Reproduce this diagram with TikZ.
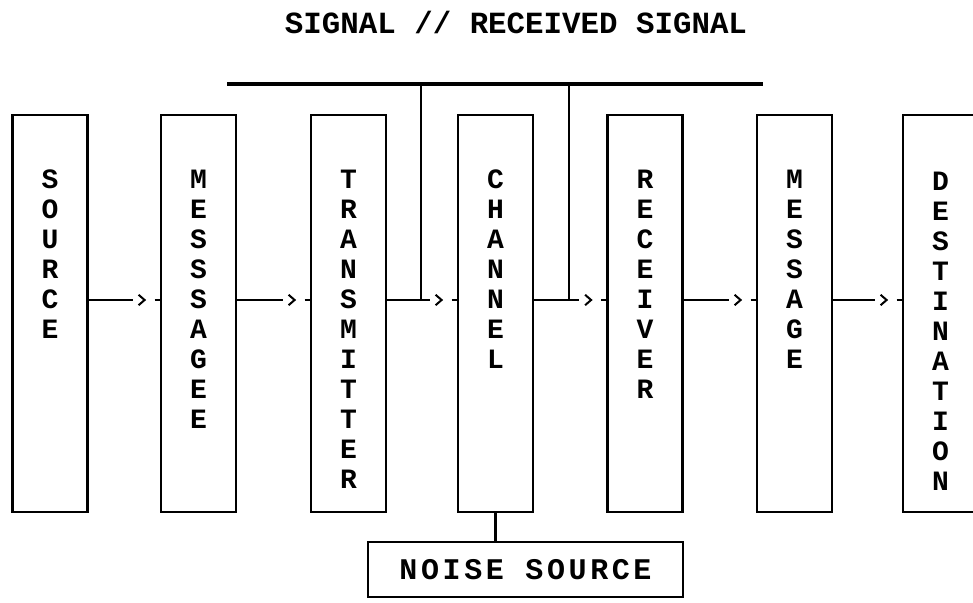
\documentclass[tikz,border=0pt]{standalone}
\usepackage{fontspec}
\setmonofont{Liberation Mono}
\usetikzlibrary{positioning,decorations.markings}
\tikzset{
  box/.style={draw, line width=1.4pt, minimum width=37.5pt, minimum height=198.5pt, inner sep=0pt},
  word/.style={font=\ttfamily\bfseries\fontsize{14}{15}\selectfont, align=center, inner sep=0pt},
  wire/.style={line width=1pt},
  bus/.style={line width=1.8pt},
  sig/.style={postaction=decorate, decoration={markings,
      mark=at position 0pt with {\draw[wire] (0pt,0pt) -- (\pgfdecoratedpathlength-13.5pt,0pt);},
      mark=at position -7.5pt with {\draw[wire] (-3pt,2.6pt) -- (0pt,0pt) -- (-3pt,-2.6pt);},
      mark=at position -2.5pt with {\draw[wire] (0pt,0pt) -- (2.5pt,0pt);}}}
}

\begin{document}
\begin{tikzpicture}[x=0.5pt, y=-0.5pt]
  \useasboundingbox (0,0) rectangle (973,603);
  \node[word, font=\ttfamily\bfseries\fontsize{15.4}{18}\selectfont] (title) at (516,22) {SIGNAL // RECEIVED SIGNAL};
  % the chain of blocks
  \node[box] (src) at (50,313.5) {};
  \node[box] (msg1) at (198.5,313.5) {};
  \node[box] (tx) at (348.5,313.5) {};
  \node[box] (chan) at (495.5,313.5) {};
  \node[box] (rx) at (645,313.5) {};
  \node[box] (msg2) at (794.5,313.5) {};
  \node[box] (dest) at (940.5,313.5) {};
  \node[word, below=28pt of src.north] (src-l) {S\\O\\U\\R\\C\\E};
  \node[word, below=28pt of msg1.north] (msg1-l) {M\\E\\S\\S\\S\\A\\G\\E\\E};
  \node[word, below=28pt of tx.north] (tx-l) {T\\R\\A\\N\\S\\M\\I\\T\\T\\E\\R};
  \node[word, below=28pt of chan.north] (chan-l) {C\\H\\A\\N\\N\\E\\L};
  \node[word, below=28pt of rx.north] (rx-l) {R\\E\\C\\E\\I\\V\\E\\R};
  \node[word, below=28pt of msg2.north] (msg2-l) {M\\E\\S\\S\\A\\G\\E};
  \node[word, below=29pt of dest.north] (dest-l) {D\\E\\S\\T\\I\\N\\A\\T\\I\\O\\N};
  \node[box, minimum width=157.5pt, minimum height=27.5pt,
        font=\ttfamily\bfseries\fontsize{15}{18}\selectfont\addfontfeature{LetterSpace=12}] (noise) at (525.5,569.5) {NOISE SOURCE};
  % signal flow
  \path[sig] ([yshift=6.75pt]src.east) -- ([yshift=6.75pt]msg1.west);
  \path[sig] ([yshift=6.75pt]msg1.east) -- ([yshift=6.75pt]tx.west);
  \path[sig] ([yshift=6.75pt]tx.east) -- ([yshift=6.75pt]chan.west);
  \path[sig] ([yshift=6.75pt]chan.east) -- ([yshift=6.75pt]rx.west);
  \path[sig] ([yshift=6.75pt]rx.east) -- ([yshift=6.75pt]msg2.west);
  \path[sig] ([yshift=6.75pt]msg2.east) -- ([yshift=6.75pt]dest.west);
  % bus above
  \coordinate (busL) at (227,84);
  \coordinate (busR) at (763,84);
  \coordinate (tapA) at (421,300);
  \coordinate (tapB) at (569,300);
  \draw[bus] (busL) -- (busR);
  \draw[wire, line width=1.3pt] (tapA |- busL) -- (tapA);
  \draw[wire, line width=1.3pt] (tapB |- busL) -- (tapB);
  \draw[wire, line width=1.3pt] (chan.south) -- (chan.south |- noise.north);
\end{tikzpicture}
\end{document}
